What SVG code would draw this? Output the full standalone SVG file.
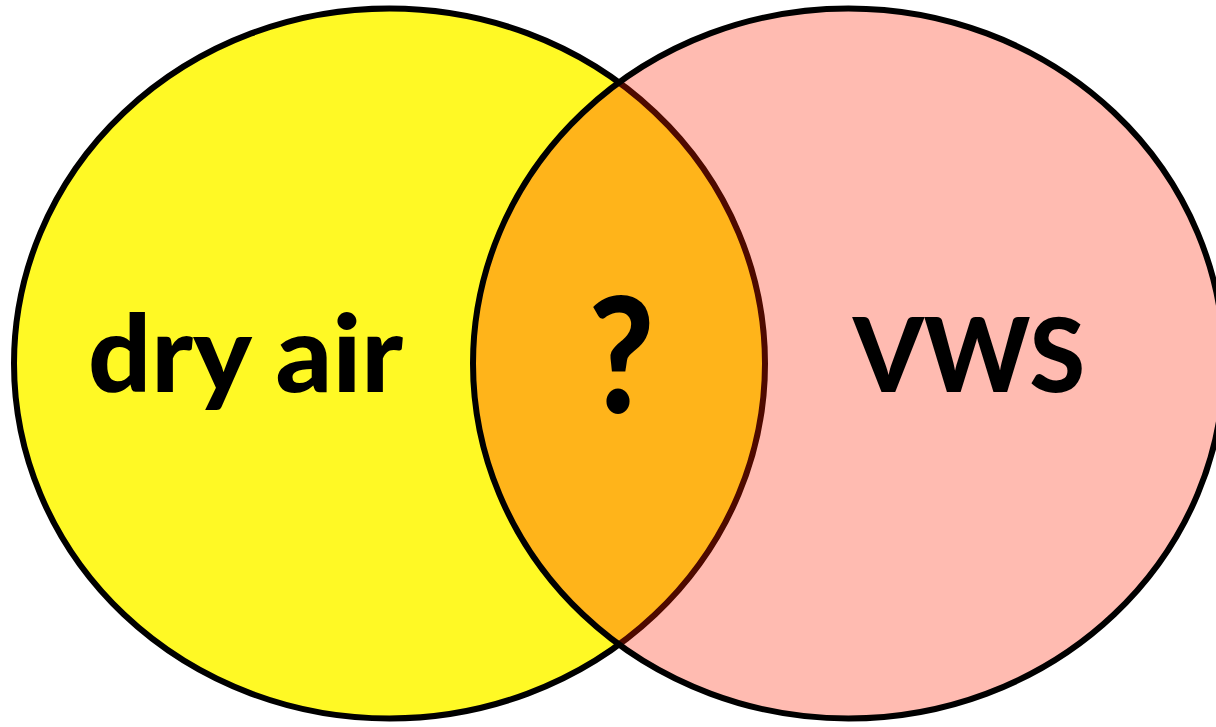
<svg xmlns="http://www.w3.org/2000/svg" width="1216" height="727" viewBox="0 0 1216 727">
<style>
.lbl{font-family:Lato,"Open Sans","Liberation Sans",sans-serif;font-weight:900;fill:#000;text-anchor:middle}
</style>
<defs>
<clipPath id="inRight"><ellipse cx="848.5" cy="363.5" rx="375.5" ry="355"/></clipPath>
</defs>
<rect width="1216" height="727" fill="#fff"/>
<g id="dry-air">
<ellipse cx="389.5" cy="363.5" rx="375.5" ry="355" fill="#FFF925" stroke="#000" stroke-width="6"/>
</g>
<g id="vws">
<ellipse cx="848.5" cy="363.5" rx="375.5" ry="355" fill="#FFBBB1"/>
</g>
<g id="overlap" clip-path="url(#inRight)">
<ellipse cx="389.5" cy="363.5" rx="375.5" ry="355" fill="#FFB41A" stroke="#4E0A00" stroke-width="6"/>
</g>
<g id="vws-outline">
<ellipse cx="848.5" cy="363.5" rx="375.5" ry="355" fill="none" stroke="#000" stroke-width="6"/>
</g>
<text class="lbl" x="245.5" y="392" font-size="106" textLength="315" lengthAdjust="spacingAndGlyphs">dry air</text>
<text class="lbl" x="621.5" y="413" font-size="160" textLength="66" lengthAdjust="spacingAndGlyphs">?</text>
<text class="lbl" x="969" y="392" font-size="102" textLength="232" lengthAdjust="spacingAndGlyphs">VWS</text>
</svg>
